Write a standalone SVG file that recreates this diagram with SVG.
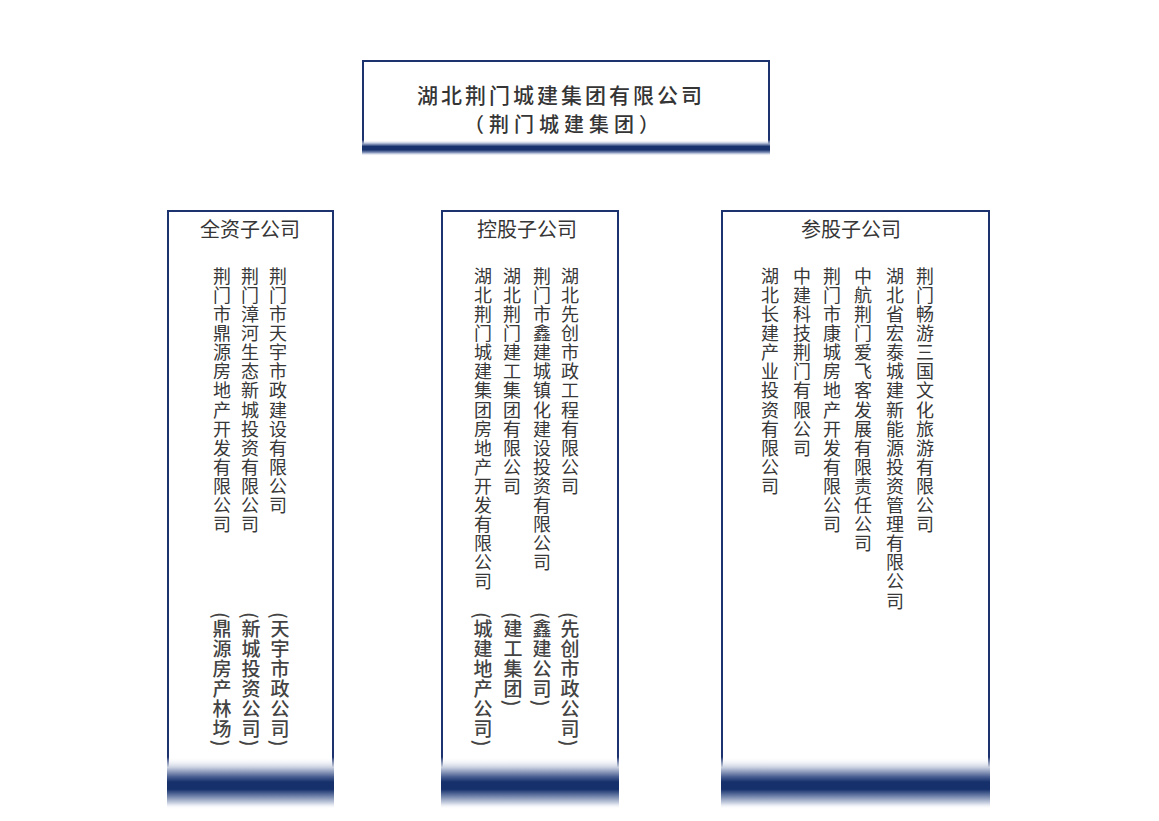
<svg xmlns="http://www.w3.org/2000/svg" width="1159" height="821" viewBox="0 0 1159 821">
<style>
.frame{fill:#ffffff;stroke:#1d3370;stroke-width:2}
.t{font-family:"Noto Sans CJK SC","Noto Sans",sans-serif;fill:#3c3c3c}
.title{font-size:21px;letter-spacing:3px;text-anchor:middle;fill:#353535;font-weight:500}
.sub{font-size:20px;letter-spacing:5px;text-anchor:middle;fill:#353535;font-weight:500}
.head{font-size:20px;text-anchor:middle;fill:#363636}
.v{font-size:18px;letter-spacing:1.1px;writing-mode:vertical-rl;fill:#383838}
.p{font-size:19px;letter-spacing:1px;writing-mode:vertical-rl;font-weight:500;fill:#444444}
</style>
<defs>
<linearGradient id="band" x1="0" y1="0" x2="0" y2="1">
<stop offset="0" stop-color="#ffffff" stop-opacity="0"/>
<stop offset="0.2" stop-color="#c9d0e0"/>
<stop offset="0.38" stop-color="#4a5f92"/>
<stop offset="0.48" stop-color="#15306b"/>
<stop offset="0.62" stop-color="#15306b"/>
<stop offset="0.75" stop-color="#6d7fa8"/>
<stop offset="0.9" stop-color="#d5dbe8"/>
<stop offset="1" stop-color="#ffffff" stop-opacity="0"/>
</linearGradient>
<linearGradient id="band2" x1="0" y1="0" x2="0" y2="1">
<stop offset="0" stop-color="#ffffff" stop-opacity="0"/>
<stop offset="0.25" stop-color="#8d9cc0"/>
<stop offset="0.4" stop-color="#18326d"/>
<stop offset="0.62" stop-color="#18326d"/>
<stop offset="0.8" stop-color="#8f9dc0"/>
<stop offset="1" stop-color="#ffffff" stop-opacity="0"/>
</linearGradient>
</defs>
<rect width="1159" height="821" fill="#ffffff"/>
<g id="connectors"/>
<g id="node-root">
<path class="frame" d="M363 148 V61 H769 V148"/>
<rect x="362" y="140" width="408" height="16" fill="url(#band2)"/>
<text class="t title" x="561" y="103">湖北荆门城建集团有限公司</text>
<text class="t sub" x="564" y="132">（荆门城建集团）</text>
</g>
<g id="node-wholly-owned">
<path class="frame" d="M168 798 V211 H333 V798"/>
<rect x="167" y="757" width="167" height="52" fill="url(#band)"/>
<text class="t head" x="250" y="237">全资子公司</text>
<text class="t v" x="278" y="267">荆门市天宇市政建设有限公司</text>
<text class="t v" x="250" y="267">荆门漳河生态新城投资有限公司</text>
<text class="t v" x="222" y="267">荆门市鼎源房地产开发有限公司</text>
<text class="t p" x="280" y="612">(天宇市政公司)</text>
<text class="t p" x="251" y="612">(新城投资公司)</text>
<text class="t p" x="222" y="612">(鼎源房产林场)</text>
</g>
<g id="node-holding">
<path class="frame" d="M442 798 V211 H618 V798"/>
<rect x="441" y="757" width="178" height="52" fill="url(#band)"/>
<text class="t head" x="527" y="237">控股子公司</text>
<text class="t v" x="570" y="267">湖北先创市政工程有限公司</text>
<text class="t v" x="542" y="267">荆门市鑫建城镇化建设投资有限公司</text>
<text class="t v" x="512" y="267">湖北荆门建工集团有限公司</text>
<text class="t v" x="483" y="267">湖北荆门城建集团房地产开发有限公司</text>
<text class="t p" x="570" y="612">(先创市政公司)</text>
<text class="t p" x="542" y="612">(鑫建公司)</text>
<text class="t p" x="513" y="612">(建工集团)</text>
<text class="t p" x="483" y="612">(城建地产公司)</text>
</g>
<g id="node-associate">
<path class="frame" d="M722 798 V211 H989 V798"/>
<rect x="721" y="757" width="269" height="52" fill="url(#band)"/>
<text class="t head" x="851" y="237">参股子公司</text>
<text class="t v" x="925" y="267">荆门畅游三国文化旅游有限公司</text>
<text class="t v" x="895" y="267">湖北省宏泰城建新能源投资管理有限公司</text>
<text class="t v" x="863" y="267">中航荆门爱飞客发展有限责任公司</text>
<text class="t v" x="832" y="267">荆门市康城房地产开发有限公司</text>
<text class="t v" x="802" y="267">中建科技荆门有限公司</text>
<text class="t v" x="770" y="267">湖北长建产业投资有限公司</text>
</g>
</svg>
